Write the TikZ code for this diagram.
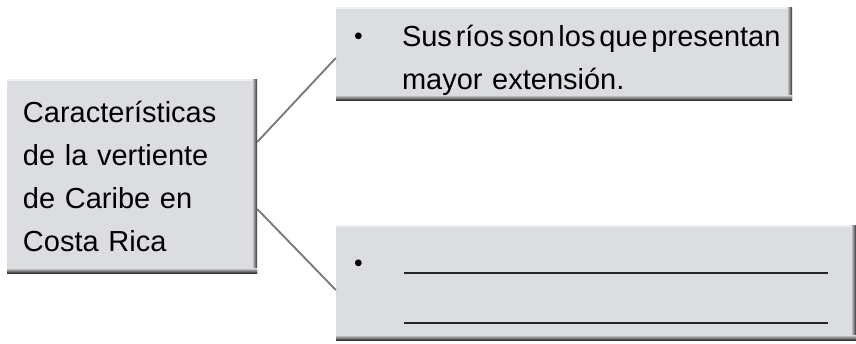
\documentclass[tikz,border=0pt]{standalone}
\usepackage{fontspec}
\setmainfont{Liberation Sans}
\usepackage{tikz}
\usetikzlibrary{positioning, calc}
\definecolor{cajongris}{RGB}{220,221,224}
\definecolor{enlacegris}{RGB}{118,118,118}
\newcommand{\letraCaja}{\fontsize{29}{43}\selectfont}
\newcommand{\puntito}{\raisebox{1.5pt}{\scalebox{0.85}{•}}}
\tikzset{
    cajon/.style={rectangle, fill=cajongris, inner sep=0pt, font=\letraCaja,
        path picture={
            \fill[white!55!cajongris] (path picture bounding box.north west) rectangle ([yshift=-2pt]path picture bounding box.north east);
            \shade[left color=cajongris, right color=black!80] ([xshift=-5pt]path picture bounding box.north east) rectangle (path picture bounding box.south east);
            \shade[top color=cajongris, bottom color=black!80] ([yshift=5pt]path picture bounding box.south west) rectangle (path picture bounding box.south east);
        }},
    enlace/.style={draw=enlacegris, line width=1.8pt},
    renglon/.style={draw=black!85, line width=1.3pt},
    vineta/.style={inner sep=0pt, anchor=base west, font=\letraCaja}
}

\begin{document}
\begin{tikzpicture}[x=1pt, y=-1pt]
    \useasboundingbox (0,0) rectangle (856,343);

    % Boxes
    \node [cajon, minimum width=250, minimum height=194, text width=218, align=left] (carac) at (132,176)
        {Características\\de la vertiente\\de Caribe en\\Costa Rica};
    \node [cajon, minimum width=456, minimum height=93, text width=436, align=left] (rios) at (564,53.5)
        {\mbox{\rule{0pt}{35pt}\hspace*{8pt}\makebox[48pt][l]{\puntito}{\spaceskip=3.8pt Sus ríos son los que presentan}}\\\hspace*{56pt}mayor extensión.};
    \node [cajon, minimum width=520, minimum height=115] (resp) at (596,282.5) {};

    % Answer lines
    \node [vineta] (punto) at (354,273) {\puntito};
    \coordinate (r1a) at (404,273);
    \coordinate (r1b) at (828,273);
    \coordinate (r2a) at (404,323);
    \coordinate (r2b) at (828,323);
    \draw [renglon] (r1a) -- (r1b);
    \draw [renglon] (r2a) -- (r2b);

    % Links
    \draw [enlace] ([yshift=34pt]carac.east) -- ([yshift=-4.5pt]rios.west);
    \draw [enlace] ([yshift=-33pt]carac.east) -- ([yshift=-7.5pt]resp.west);
\end{tikzpicture}
\end{document}
